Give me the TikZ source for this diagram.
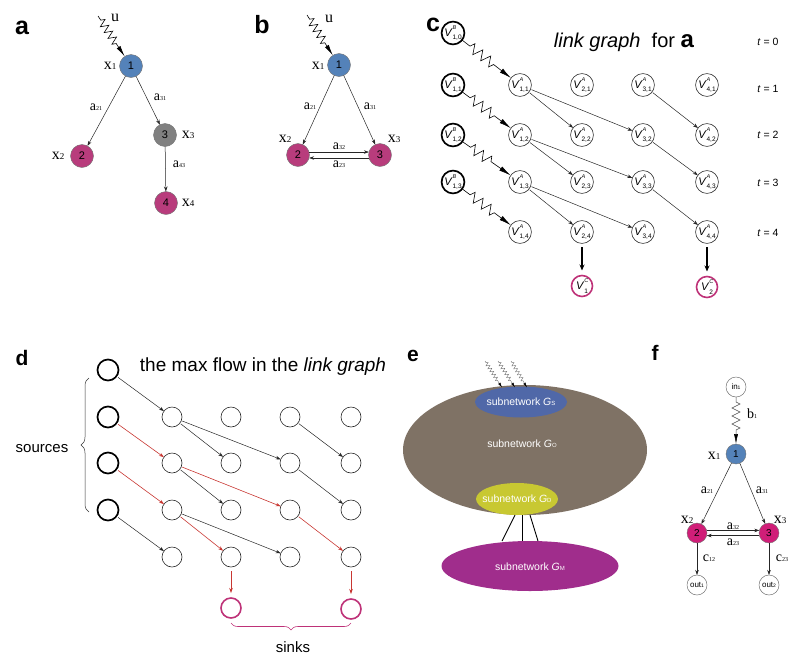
\documentclass[tikz,border=0pt]{standalone}
\usepackage{fontspec}
\setmainfont{Liberation Sans}
\newfontfamily\tnr{Liberation Serif}
\usetikzlibrary{arrows.meta,decorations.pathmorphing,decorations.pathreplacing,shapes.geometric}
\definecolor{nblue}{RGB}{84,130,185}
\definecolor{nmag}{RGB}{184,60,124}
\definecolor{ngray}{RGB}{128,128,128}
\definecolor{fmag}{RGB}{208,30,120}
\definecolor{sinkc}{RGB}{190,50,120}
\definecolor{flowred}{RGB}{200,55,50}
\definecolor{ebrown}{RGB}{127,114,101}
\definecolor{eblue}{RGB}{80,104,168}
\definecolor{eyel}{RGB}{200,200,50}
\definecolor{epur}{RGB}{160,45,140}
\newcommand{\vlab}[2]{\textit{V}\rlap{\raisebox{1.2ex}{\fontsize{5.5}{5.5}\selectfont\textit{#1}}}\raisebox{-0.6ex}{\fontsize{6.5}{6.5}\selectfont #2}}
\newcommand{\xl}[2]{{\tnr\fontsize{16}{16}\selectfont #1{\fontsize{9}{9}\selectfont #2}}}
\newcommand{\al}[2]{{\tnr\fontsize{14}{14}\selectfont #1{\fontsize{6}{6}\selectfont #2}}}
\newcommand{\gsub}[1]{\textit{G}{\fontsize{6}{6}\selectfont #1}}
\begin{document}
\begin{tikzpicture}[x=1pt,y=-1pt,
  every node/.style={inner sep=0pt,outer sep=0pt},
  plab/.style={font=\bfseries\fontsize{25}{25}\selectfont},
  plabs/.style={font=\bfseries\fontsize{21}{21}\selectfont},
  nd/.style={circle,draw=black!55,line width=0.4pt,minimum size=23pt,font=\fontsize{11}{11}\selectfont},
  fnd/.style={circle,draw=black!55,line width=0.4pt,minimum size=20pt,font=\fontsize{10}{10}\selectfont},
  ionode/.style={circle,draw=black!55,fill=white,line width=0.5pt,minimum size=20pt,font=\fontsize{8}{8}\selectfont},
  cA/.style={circle,draw=black!85,line width=0.6pt,minimum size=21pt,font=\fontsize{11}{11}\selectfont},
  cB/.style={circle,draw=black,line width=1.7pt,minimum size=21pt,font=\fontsize{11}{11}\selectfont},
  cC/.style={circle,draw=sinkc,line width=1.6pt,minimum size=21pt,font=\fontsize{11}{11}\selectfont},
  dG/.style={circle,draw=black!85,line width=0.6pt,minimum size=20pt},
  dS/.style={circle,draw=black,line width=1.7pt,minimum size=21pt},
  dK/.style={circle,draw=sinkc,line width=1.6pt,minimum size=20pt},
  ar/.style={-{Stealth[length=5pt,width=3.5pt]},line width=0.5pt,draw=black!85},
  rar/.style={-{Stealth[length=5pt,width=3.5pt]},line width=0.6pt,draw=flowred},
  thk/.style={-{Stealth[length=6pt,width=5pt]},line width=1.1pt,draw=black},
  zz/.style={-{Latex[length=11pt,width=4.5pt]},line width=0.6pt,draw=black,decorate,
     decoration={zigzag,amplitude=4pt,segment length=7pt,pre length=5pt,post length=14pt}},
  zzc/.style={-{Latex[length=12pt,width=5pt]},line width=0.6pt,draw=black,decorate,
     decoration={zigzag,amplitude=5pt,segment length=10pt,pre length=10pt,post length=20pt}},
  zzs/.style={-{Latex[length=5pt,width=2.6pt,color=black]},line width=0.4pt,draw=black!55,decorate,
     decoration={zigzag,amplitude=1.8pt,segment length=3.5pt,pre length=2pt,post length=7pt}},
  zzf/.style={-{Latex[length=10pt,width=4pt,color=black]},line width=0.5pt,draw=black!70,decorate,
     decoration={zigzag,amplitude=4pt,segment length=8pt,pre length=5pt,post length=14pt}},
  tl/.style={font=\fontsize{10.5}{10.5}\selectfont},
  etxt/.style={text=white,font=\fontsize{10.5}{10.5}\selectfont}
]
\useasboundingbox (0,0) rectangle (800,667);

% ---------------- panel a
\node[plab] (la) at (22,28) {a};
\node[nd,fill=nblue] (a1) at (131,66) {1};
\node[nd,fill=nmag] (a2) at (82,156) {2};
\node[nd,fill=ngray] (a3) at (165,135) {3};
\node[nd,fill=nmag] (a4) at (166,203) {4};
\coordinate (au) at (98,16);
\node (aut) at (115,18) {\xl{u}{}};
\draw[zz] (au) -- (a1);
\draw[ar] (a1) -- (a2);
\draw[ar] (a1) -- (a3);
\draw[ar] (a3) -- (a4);
\node (ax1) at (110,66) {\xl{x}{1}};
\node (ax2) at (58,156) {\xl{x}{2}};
\node (ax3) at (188,135) {\xl{x}{3}};
\node (ax4) at (188,203) {\xl{x}{4}};
\node (aa21) at (96,107) {\al{a}{21}};
\node (aa31) at (160,97) {\al{a}{31}};
\node (aa43) at (179,164) {\al{a}{43}};

% ---------------- panel b
\node[plab] (lb) at (262,25) {b};
\node[nd,fill=nblue] (b1) at (339,65) {1};
\node[nd,fill=nmag] (b2) at (298,155) {2};
\node[nd,fill=nmag] (b3) at (380,155) {3};
\coordinate (bu) at (307,15);
\node (but) at (329,19) {\xl{u}{}};
\draw[zz] (bu) -- (b1);
\draw[ar] (b1) -- (b2);
\draw[ar] (b1) -- (b3);
\draw[ar] (b2.15) -- (b3.165);
\draw[ar] (b3.-165) -- (b2.-15);
\node (bx1) at (318,66) {\xl{x}{1}};
\node (bx2) at (285,139) {\xl{x}{2}};
\node (bx3) at (394,139) {\xl{x}{3}};
\node (ba21) at (310,106) {\al{a}{21}};
\node (ba31) at (370,106) {\al{a}{31}};
\node (ba32) at (339,146) {\al{a}{32}};
\node (ba23) at (339,164) {\al{a}{23}};

% ---------------- panel c
\node[plab] (lc) at (433,25) {c};
\node (ctitle) at (624,42) {\fontsize{20}{20}\selectfont\textit{link graph}\ \ for \textbf{\fontsize{24}{24}\selectfont a}};
\foreach \t/\y in {0/33,1/85,2/135,3/182} \node[cB] (cB\t) at (453,\y) {\vlab{B}{1,\t}};
\foreach \i/\x in {1/520,2/582,3/643,4/707}
  \foreach \t/\y in {1/85,2/135,3/182,4/232}
    \node[cA] (cA\i\t) at (\x,\y) {\vlab{A}{\i,\t}};
\node[cC] (cC1) at (582,286) {\vlab{C}{1}};
\node[cC] (cC2) at (707,287) {\vlab{C}{2}};
\draw[zzc] (cB0) -- (cA11);
\draw[zzc] (cB1) -- (cA12);
\draw[zzc] (cB2) -- (cA13);
\draw[zzc] (cB3) -- (cA14);
\draw[ar,shorten <=1pt] (cA11) -- (cA22);
\draw[ar,shorten <=1pt] (cA11) -- (cA32);
\draw[ar,shorten <=1pt] (cA31) -- (cA42);
\draw[ar,shorten <=1pt] (cA12) -- (cA23);
\draw[ar,shorten <=1pt] (cA12) -- (cA33);
\draw[ar,shorten <=1pt] (cA32) -- (cA43);
\draw[ar,shorten <=1pt] (cA13) -- (cA24);
\draw[ar,shorten <=1pt] (cA13) -- (cA34);
\draw[ar,shorten <=1pt] (cA33) -- (cA44);
\draw[thk,shorten <=4pt,shorten >=5pt] (cA24) -- (cC1);
\draw[thk,shorten <=4pt,shorten >=5pt] (cA44) -- (cC2);
\node[tl] (t0) at (768,42) {\textit{t} = 0};
\node[tl] (t1) at (768,89) {\textit{t} = 1};
\node[tl] (t2) at (768,135) {\textit{t} = 2};
\node[tl] (t3) at (768,183) {\textit{t} = 3};
\node[tl] (t4) at (768,233) {\textit{t} = 4};

% ---------------- panel d
\node[plabs] (ld) at (22,358) {d};
\node (dtitle) at (263,367) {\fontsize{19}{19}\selectfont the max flow in the \textit{link graph}};
\foreach \t/\y in {0/370,1/417,2/463,3/510} \node[dS] (dS\t) at (108,\y) {};
\foreach \i/\x in {1/172,2/231,3/290,4/351}
  \foreach \t/\y in {1/417,2/463,3/510,4/557}
    \node[dG] (dG\i\t) at (\x,\y) {};
\node[dK] (dK1) at (231,608) {};
\node[dK] (dK2) at (351,609) {};
\draw[ar,shorten <=2pt] (dS0) -- (dG11);
\draw[rar,shorten <=2pt] (dS1) -- (dG12);
\draw[rar,shorten <=2pt] (dS2) -- (dG13);
\draw[ar,shorten <=2pt] (dS3) -- (dG14);
\draw[ar,shorten <=1pt] (dG11) -- (dG22);
\draw[ar,shorten <=1pt] (dG11) -- (dG32);
\draw[ar,shorten <=1pt] (dG31) -- (dG42);
\draw[ar,shorten <=1pt] (dG12) -- (dG23);
\draw[rar,shorten <=1pt] (dG12) -- (dG33);
\draw[ar,shorten <=1pt] (dG32) -- (dG43);
\draw[rar,shorten <=1pt] (dG13) -- (dG24);
\draw[ar,shorten <=1pt] (dG13) -- (dG34);
\draw[rar,shorten <=1pt] (dG33) -- (dG44);
\draw[rar,shorten <=4pt,shorten >=5pt] (dG24) -- (dK1);
\draw[rar,shorten <=4pt,shorten >=5pt] (dG44) -- (dK2);
\node (dsrc) at (42,449) {\fontsize{15}{15}\selectfont sources};
\coordinate (brA) at (89,512);
\coordinate (brB) at (89,378);
\draw[black!80,line width=0.5pt,decorate,decoration={brace,amplitude=8pt}] (brA) -- (brB);
\coordinate (brC) at (351,623);
\coordinate (brD) at (231,623);
\draw[sinkc,line width=0.6pt,decorate,decoration={brace,amplitude=7pt}] (brC) -- (brD);
\node (dsnk) at (293,647) {\fontsize{15}{15}\selectfont sinks};

% ---------------- panel e
\node[plabs] (le) at (413,356) {e};
\node[ellipse,fill=ebrown,minimum width=244pt,minimum height=130pt] (eGo) at (525,450) {};
\node[ellipse,fill=eblue,minimum width=92pt,minimum height=31pt] (eGs) at (521,402) {};
\node[ellipse,fill=eyel,minimum width=82pt,minimum height=32pt] (eGD) at (517,499) {};
\node[ellipse,fill=epur,minimum width=177pt,minimum height=50pt] (eGM) at (530,566) {};
\node[etxt] (tGs) at (521,402) {subnetwork \gsub{S}};
\node[etxt] (tGo) at (522,444) {subnetwork \gsub{O}};
\node[etxt] (tGD) at (517,499) {subnetwork \gsub{D}};
\node[etxt] (tGM) at (530,567) {subnetwork \gsub{M}};
\draw[black,line width=0.9pt] ([xshift=-2pt]eGD.south) -- ([xshift=-28pt]eGM.north);
\draw[black,line width=0.9pt] ([xshift=5pt]eGD.south) -- ([xshift=-8pt]eGM.north);
\draw[black,line width=0.9pt] ([xshift=13pt]eGD.south) -- ([xshift=8pt]eGM.north);
\coordinate (ez1) at (485,361);
\coordinate (ez2) at (498,361);
\coordinate (ez3) at (511,361);
\draw[zzs] (ez1) -- ([xshift=-19pt,yshift=-1pt]eGs.north);
\draw[zzs] (ez2) -- ([xshift=-6pt,yshift=-1pt]eGs.north);
\draw[zzs] (ez3) -- ([xshift=6pt,yshift=-1pt]eGs.north);

% ---------------- panel f
\node[plabs] (lf) at (655,353) {f};
\node[ionode] (fin) at (736,387) {in{\fontsize{5}{5}\selectfont 1}};
\node[fnd,fill=nblue] (f1) at (736,454) {1};
\node[fnd,fill=fmag] (f2) at (697,533) {2};
\node[fnd,fill=fmag] (f3) at (769,533) {3};
\node[ionode] (fo1) at (697,585) {out{\fontsize{5}{5}\selectfont 1}};
\node[ionode] (fo2) at (769,585) {out{\fontsize{5}{5}\selectfont 2}};
\draw[zzf] (fin) -- (f1);
\draw[ar] (f1) -- (f2);
\draw[ar] (f1) -- (f3);
\draw[ar] (f2.15) -- (f3.165);
\draw[ar] (f3.-165) -- (f2.-15);
\draw[ar] (f2) -- (fo1);
\draw[ar] (f3) -- (fo2);
\node (fb1) at (752,414) {\al{b}{1}};
\node (fx1) at (714,456) {\xl{x}{1}};
\node (fx2) at (687,520) {\xl{x}{2}};
\node (fx3) at (780,520) {\xl{x}{3}};
\node (fa21) at (707,490) {\al{a}{21}};
\node (fa31) at (762,490) {\al{a}{31}};
\node (fa32) at (733,526) {\al{a}{32}};
\node (fa23) at (733,542) {\al{a}{23}};
\node (fc12) at (709,558) {\al{c}{12}};
\node (fc23) at (782,558) {\al{c}{23}};
\end{tikzpicture}
\end{document}
